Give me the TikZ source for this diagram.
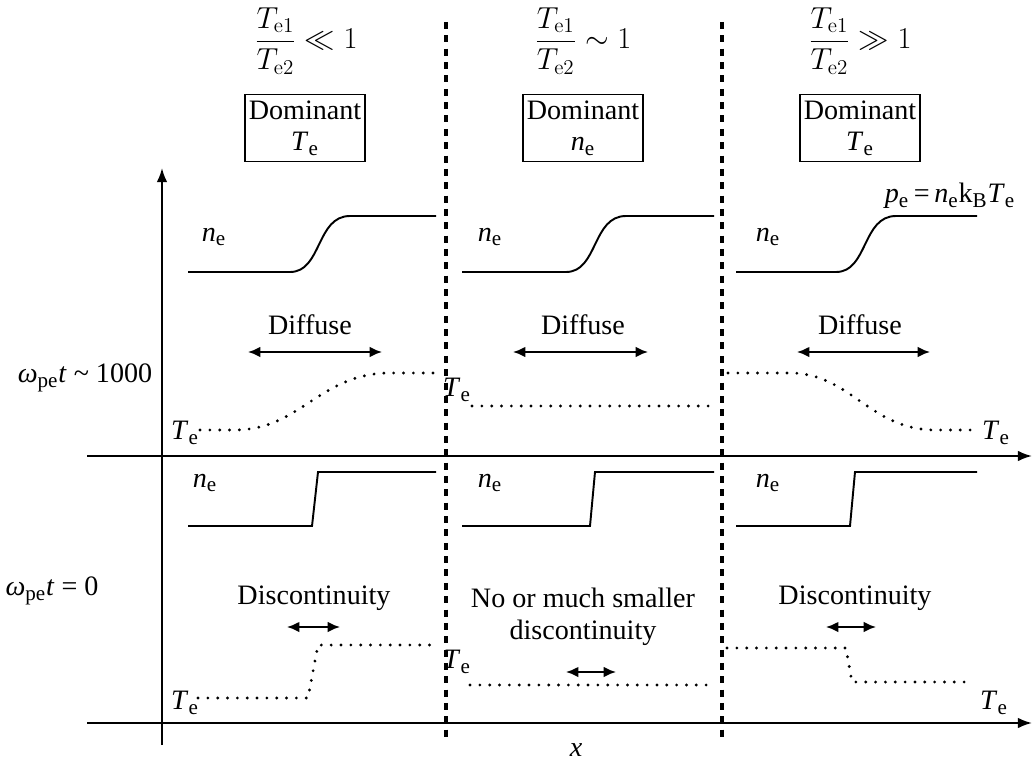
\documentclass[tikz,border=0pt]{standalone}
\usepackage[no-math]{fontspec}
\setmainfont{Liberation Serif}
\usepackage{tikz}
\usetikzlibrary{arrows.meta}
\DeclareMathSizes{16}{16}{12}{8}
\newcommand{\sTe}{\textit{T}\textsubscript{e}}
\newcommand{\sne}{\textit{n}\textsubscript{e}}
\newcommand{\ratio}{\displaystyle\frac{T_{\mathrm{e}1}}{T_{\mathrm{e}2}}}

\begin{document}
\begin{tikzpicture}[x=0.02cm, y=-0.02cm,
  every node/.style={font=\fontsize{16}{18}\selectfont},
  axis/.style={line width=1.1pt, -{Latex[length=8pt,width=6pt]}},
  divider/.style={line width=1.9pt, dash pattern=on 4pt off 3.6pt},
  profile/.style={line width=1.1pt},
  temp/.style={line width=1.8pt, line cap=round, dash pattern=on 0pt off 5.6pt},
  span/.style={line width=1.1pt, {Latex[length=7pt,width=6pt]}-{Latex[length=7pt,width=6pt]}},
  regime/.style={draw, line width=1.1pt, align=center, minimum width=2.4cm, minimum height=1.34cm, inner sep=2pt}]
\path[use as bounding box] (0,0) rectangle (1032,767);

% axes and regime borders
\draw[axis] (162,745) -- (162,168);
\draw[axis] (87,456) -- (1032,456);
\draw[axis] (87,723) -- (1032,723);
\draw[divider] (446,22) -- (446,737);
\draw[divider] (722,22) -- (722,737);

% regimes
\node (rlow) at (306,41) {$\ratio \ll 1$};
\node (rmid) at (583,41) {$\ratio \sim 1$};
\node (rhigh) at (860,41) {$\ratio \gg 1$};
\node[regime] (domlow) at (305,128) {Dominant\\ \sTe};
\node[regime] (dommid) at (583,128) {Dominant\\ \sne};
\node[regime] (domhigh) at (860,128) {Dominant\\ \sTe};
\node (pe) at (950,196) {\textit{p}\textsubscript{e}\,=\,\textit{n}\textsubscript{e}k\textsubscript{B}\textit{T}\textsubscript{e}};

% late time
\node (wlate) at (85,378) {\textit{ω}\textsubscript{pe}\textit{t} \textasciitilde\ 1000};
\node (nlate1) at (214,237) {\sne};
\node (nlate2) at (490,237) {\sne};
\node (nlate3) at (768,237) {\sne};
\draw[profile] (188,272) -- (290,272) .. controls (322,272) and (316,216) .. (350,216) -- (436,216);
\draw[profile] (462,272) -- (566,272) .. controls (598,272) and (592,216) .. (626,216) -- (714,216);
\draw[profile] (736,272) -- (836,272) .. controls (868,272) and (862,216) .. (896,216) -- (977,216);
\node (dif1) at (310,325) {Diffuse};
\node (dif2) at (583,325) {Diffuse};
\node (dif3) at (860,325) {Diffuse};
\draw[span] (248,352) -- (382,352);
\draw[span] (513,352) -- (648,352);
\draw[span] (797,352) -- (930,352);
\node (tlate1) at (185,433) {\sTe};
\node (tlate2) at (457,390) {\sTe};
\node (tlate3) at (996,433) {\sTe};
\draw[temp] (200,430) -- (235,430) .. controls (300,430) and (320,373) .. (390,373) -- (436,373);
\draw[temp] (472,406) -- (714,406);
\draw[temp] (728,373) -- (790,373) .. controls (850,373) and (870,430) .. (935,430) -- (972,430);

% initial time
\node (wini) at (52,591) {\textit{ω}\textsubscript{pe}\textit{t} = 0};
\node (nini1) at (205,483) {\sne};
\node (nini2) at (490,483) {\sne};
\node (nini3) at (768,483) {\sne};
\draw[profile] (188,526) -- (312,526) -- (318,472) -- (436,472);
\draw[profile] (462,526) -- (590,526) -- (595,472) -- (714,472);
\draw[profile] (736,526) -- (850,526) -- (855,472) -- (977,472);
\node (disc1) at (314,598) {Discontinuity};
\node (disc2) at (583,617) [align=center] {No or much smaller\\ discontinuity};
\node (disc3) at (855,598) {Discontinuity};
\draw[span] (287,627) -- (340,627);
\draw[span] (566,672) -- (616,672);
\draw[span] (826,627) -- (876,627);
\node (tini1) at (185,703) {\sTe};
\node (tini2) at (457,662) {\sTe};
\node (tini3) at (994,703) {\sTe};
\draw[temp] (198,698) -- (308,698) -- (318,645) -- (436,645);
\draw[temp] (470,685) -- (712,685);
\draw[temp] (727,648) -- (846,648) -- (852,682) -- (968,682);

\node (xlab) at (576,750) {\textit{x}};
\end{tikzpicture}
\end{document}
